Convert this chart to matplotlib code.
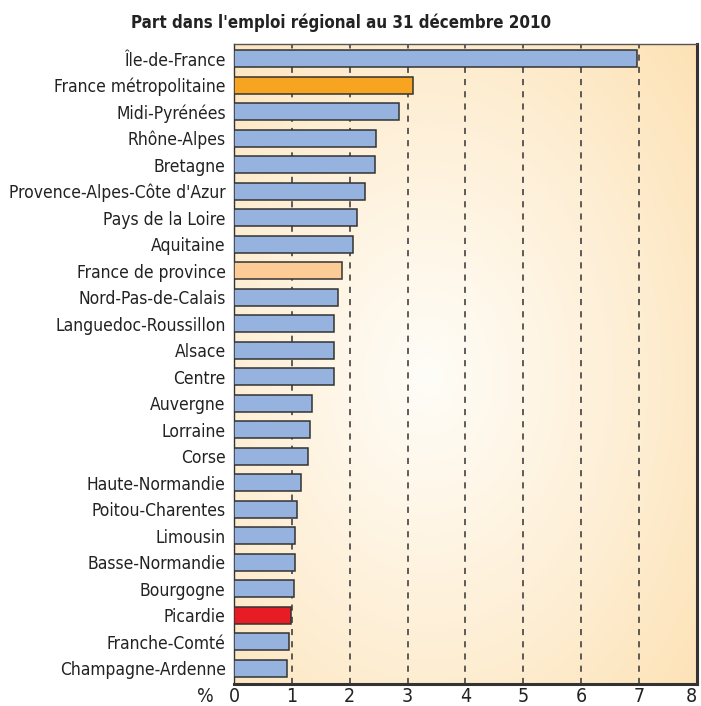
import numpy as np
import matplotlib.pyplot as plt
from matplotlib import font_manager
from matplotlib.colors import LinearSegmentedColormap

regions = ["Île-de-France", "France métropolitaine", "Midi-Pyrénées", "Rhône-Alpes",
           "Bretagne", "Provence-Alpes-Côte d'Azur", "Pays de la Loire", "Aquitaine",
           "France de province", "Nord-Pas-de-Calais", "Languedoc-Roussillon", "Alsace",
           "Centre", "Auvergne", "Lorraine", "Corse", "Haute-Normandie", "Poitou-Charentes",
           "Limousin", "Basse-Normandie", "Bourgogne", "Picardie", "Franche-Comté",
           "Champagne-Ardenne"]
values = [6.96, 3.09, 2.85, 2.45, 2.44, 2.26, 2.12, 2.06, 1.87, 1.80, 1.73, 1.73,
          1.73, 1.35, 1.31, 1.28, 1.16, 1.09, 1.05, 1.05, 1.04, 0.99, 0.95, 0.92]
xticks = [0, 1, 2, 3, 4, 5, 6, 7, 8]

blue = "#95b3de"
colors = [blue] * len(regions)
colors[regions.index("France métropolitaine")] = "#f7a520"
colors[regions.index("France de province")] = "#fdcc96"
colors[regions.index("Picardie")] = "#e81c24"

# look for a narrow font, fall back to Roboto
narrow = None
for f in font_manager.fontManager.ttflist:
    st = str(f.stretch).lower()
    if "narrow" in f.name.lower() or "condensed" in f.name.lower() or "condensed" in st:
        narrow = f
        break
if narrow is not None:
    plt.rcParams["font.family"] = [narrow.name, "DejaVu Sans"]
    plt.rcParams["font.stretch"] = narrow.stretch
    lab_fs, tick_fs, title_fs = 12.5, 14, 12.2
else:
    plt.rcParams["font.family"] = ["Roboto", "DejaVu Sans"]
    lab_fs, tick_fs, title_fs = 11, 13, 11.5

fig = plt.figure(figsize=(7.01, 7.06), dpi=100)
ax = fig.add_axes([234 / 701, 1 - 684 / 706, 463 / 701, 640 / 706])

# radial background gradient
gx, gy = np.meshgrid(np.linspace(0, 1, 300), np.linspace(0, 1, 300))
r = np.sqrt(((gx - 0.42) / 0.8) ** 2 + ((gy - 0.48) / 0.8) ** 2)
cmap = LinearSegmentedColormap.from_list("bg", ["#fffdf8", "#fef0d8", "#fde1b3"])
ax.imshow(np.clip(r, 0, 1), cmap=cmap, extent=[0, 8, -0.6, len(regions) - 0.45],
          aspect="auto", origin="lower", zorder=0, vmin=0, vmax=1)

y = np.arange(len(regions))[::-1]
ax.barh(y, values, height=0.64, color=colors, edgecolor="#333333", linewidth=1.1, zorder=3)

for t in xticks[1:-1]:
    ax.axvline(t, color="#333333", linestyle=(0, (4, 4)), linewidth=1.1, zorder=2)

ax.set_xlim(0, 8)
ax.set_ylim(-0.6, len(regions) - 0.45)
ax.set_xticks(xticks)
ax.set_xticklabels([str(t) for t in xticks], fontsize=tick_fs, color="#222222")
ax.get_xticklabels()[-1].set_horizontalalignment("right")
ax.set_yticks(y)
ax.set_yticklabels(regions, fontsize=lab_fs, color="#222222")
ax.tick_params(length=0, pad=6)
ax.tick_params(axis="x", pad=2)

for s in ax.spines.values():
    s.set_color("#333333")
    s.set_linewidth(1.0)
ax.spines["right"].set_linewidth(2.2)
ax.spines["bottom"].set_linewidth(2.2)
ax.spines["top"].set_color("#555555")

fig.text(205 / 701, 1 - 687 / 706, "%", fontsize=tick_fs, ha="center", va="top", color="#222222")
fig.text(341 / 701, 1 - 23 / 706, "Part dans l'emploi régional au 31 décembre 2010",
         fontsize=title_fs, fontweight="bold", ha="center", va="center", color="#222222")

fig.savefig("out.png", dpi=100)
